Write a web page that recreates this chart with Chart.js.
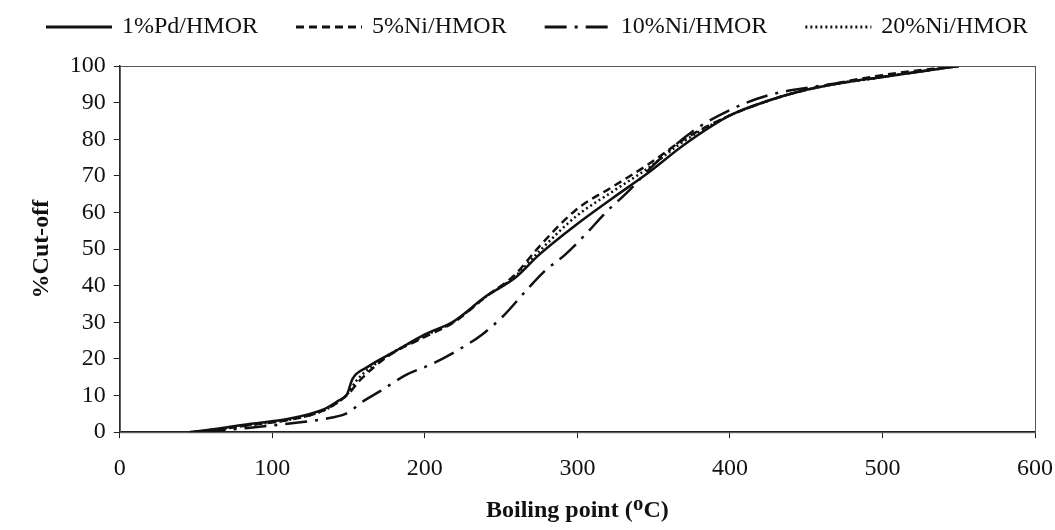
<!DOCTYPE html>
<html>
<head>
<meta charset="utf-8">
<script src="https://cdn.jsdelivr.net/npm/chart.js@4.4.1/dist/chart.umd.min.js"></script>
<style>
  html, body { margin: 0; padding: 0; background: #fff; }
  #wrap { width: 1055px; height: 530px; position: relative; }
</style>
</head>
<body>
<div id="wrap"><canvas id="cutoffChart"></canvas></div>
<script>
// Distillation curves: [boiling point (°C), % cut-off]
var pdHmor = [
  [46, 0], [65, 1], [86, 2.3], [110, 3.6], [134, 6.3], [143, 8.5], [149, 10.4],
  [152.5, 14.5], [162, 17.7], [181, 22.2], [200, 26.7], [219, 30.3],
  [240, 37.1], [259, 42.1], [275, 48.5], [299, 56.6], [323, 63.9],
  [346, 70.7], [370, 78.5], [400, 86.5], [425, 90.5], [450, 93.5],
  [475, 95.5], [500, 97], [525, 98.5], [550, 100]
];
var ni5Hmor = [
  [46, 0], [65, 0.8], [86, 2], [110, 3.3], [134, 6], [145, 8.8], [150, 10.5],
  [157, 14], [176, 20.8], [200, 26], [219, 30], [240, 37], [259, 43],
  [275, 50.7], [299, 60.7], [323, 67], [346, 73], [370, 80], [400, 86.5],
  [425, 90.5], [450, 93.5], [500, 97.5], [550, 100]
];
var ni10Hmor = [
  [55, 0], [80, 1], [110, 2.3], [134, 3.6], [148, 5], [152, 6], [157, 7.7],
  [171, 11.3], [188, 15.7], [204.5, 18.6], [222, 22.5], [237.6, 26.7],
  [252, 32], [266, 38.5], [278, 43.8], [292, 48.5], [306, 54.3],
  [319, 60.2], [332, 65.2], [350, 73], [375, 82], [400, 88], [425, 92],
  [450, 94], [500, 97], [550, 100]
];
var ni20Hmor = [
  [46, 0], [65, 0.8], [86, 2], [110, 3.3], [134, 6], [145, 8.8], [150, 10.8],
  [155, 14], [176, 21], [200, 26.3], [219, 30.2], [240, 37], [259, 42.5],
  [275, 49.4], [299, 58.9], [323, 65.7], [346, 72], [370, 79.5], [400, 86.5],
  [425, 90.5], [450, 93.5], [500, 97], [550, 100]
];
var seriesNames = ['1%Pd/HMOR', '5%Ni/HMOR', '10%Ni/HMOR', '20%Ni/HMOR'];
var xTicks = [0, 100, 200, 300, 400, 500, 600];
var yTicks = [0, 10, 20, 30, 40, 50, 60, 70, 80, 90, 100];

var SERIF = "'Liberation Serif', 'DejaVu Serif', serif";

function toPoints(rows) {
  return rows.map(function(r) { return { x: r[0], y: r[1] }; });
}

function lineSet(label, rows, dash) {
  return {
    label: label,
    data: toPoints(rows),
    borderColor: '#111',
    backgroundColor: '#111',
    borderWidth: 2.5,
    borderDash: dash,
    pointRadius: 0,
    cubicInterpolationMode: 'monotone',
    fill: false
  };
}

// thin frame round the plot area (top and right edges)
var framePlugin = {
  id: 'frame',
  afterDraw: function(chart) {
    var a = chart.chartArea, ctx = chart.ctx;
    ctx.save();
    ctx.strokeStyle = '#555';
    ctx.lineWidth = 1;
    ctx.strokeRect(a.left + 0.5, a.top + 0.5, a.right - a.left, a.bottom - a.top);
    ctx.restore();
  }
};

// legend with real dashed line samples (built-in one draws them solid)
var lineLegend = {
  id: 'lineLegend',
  afterDraw: function(chart) {
    var ctx = chart.ctx;
    var sample = 66, gap = 10, spacing = 38, y = 27;
    ctx.save();
    ctx.font = '24px ' + SERIF;
    var sets = chart.data.datasets;
    var widths = sets.map(function(ds) { return ctx.measureText(ds.label).width; });
    var total = widths.reduce(function(s, w) { return s + sample + gap + w; }, 0) + spacing * (sets.length - 1);
    var x = 537 - total / 2;
    ctx.textBaseline = 'middle';
    ctx.fillStyle = '#111';
    sets.forEach(function(ds, i) {
      ctx.beginPath();
      ctx.setLineDash(ds.borderDash || []);
      ctx.lineWidth = 3;
      ctx.strokeStyle = '#111';
      ctx.moveTo(x, y);
      ctx.lineTo(x + sample, y);
      ctx.stroke();
      ctx.setLineDash([]);
      ctx.fillText(ds.label, x + sample + gap, y);
      x += sample + gap + widths[i] + spacing;
    });
    ctx.restore();
  }
};

new Chart(document.getElementById('cutoffChart').getContext('2d'), {
  type: 'line',
  data: {
    datasets: [
      lineSet(seriesNames[0], pdHmor, []),
      lineSet(seriesNames[1], ni5Hmor, [8, 5]),
      lineSet(seriesNames[2], ni10Hmor, [22, 8, 3, 8]),
      lineSet(seriesNames[3], ni20Hmor, [2, 3])
    ]
  },
  options: {
    responsive: true,
    maintainAspectRatio: false,
    animation: false,
    layout: { padding: { left: 19, right: 0, top: 66, bottom: 7 } },
    plugins: {
      tooltip: { enabled: false },
      legend: { display: false }
    },
    scales: {
      x: {
        type: 'linear',
        min: 0,
        max: 600,
        afterBuildTicks: function(axis) { axis.ticks = xTicks.map(function(v) { return { value: v }; }); },
        // only leave room for half of the "600" label on the right
        afterFit: function(axis) { axis.paddingRight = 20; },
        grid: { drawOnChartArea: false, color: '#222', tickLength: 6 },
        border: { color: '#222', width: 1.5 },
        ticks: { color: '#111', font: { family: SERIF, size: 24 }, padding: 16, maxRotation: 0 },
        title: {
          display: true,
          text: 'Boiling point (ᴼC)',
          color: '#111',
          font: { family: SERIF, size: 24, weight: 'bold', lineHeight: 1 },
          padding: { top: 0, bottom: 0 }
        }
      },
      y: {
        type: 'linear',
        min: 0,
        max: 100,
        afterBuildTicks: function(axis) { axis.ticks = yTicks.map(function(v) { return { value: v }; }); },
        grid: { drawOnChartArea: false, color: '#222', tickLength: 6 },
        border: { color: '#222', width: 1.5 },
        ticks: { color: '#111', font: { family: SERIF, size: 24 }, padding: 8 },
        title: {
          display: true,
          text: '%Cut-off',
          color: '#111',
          font: { family: SERIF, size: 24, weight: 'bold' },
          padding: { top: 8, bottom: 6 }
        }
      }
    }
  },
  plugins: [framePlugin, lineLegend]
});
</script>
</body>
</html>
